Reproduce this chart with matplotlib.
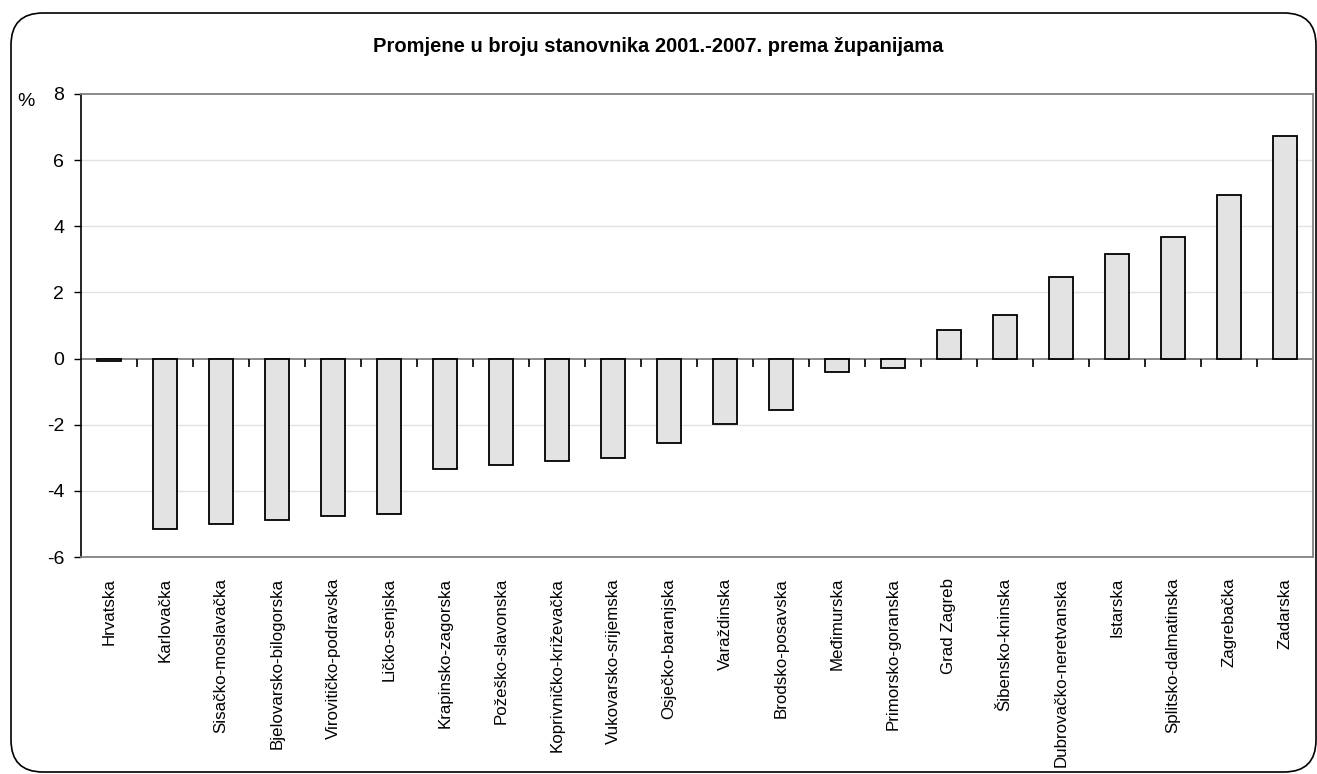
import matplotlib.pyplot as plt
import numpy as np
from matplotlib.patches import FancyBboxPatch

plt.rcParams['font.family'] = ['Liberation Sans', 'DejaVu Sans']
plt.rcParams['axes.unicode_minus'] = False

zupanije = ["Hrvatska", "Karlovačka", "Sisačko-moslavačka", "Bjelovarsko-bilogorska",
            "Virovitičko-podravska", "Ličko-senjska", "Krapinsko-zagorska", "Požeško-slavonska",
            "Koprivničko-križevačka", "Vukovarsko-srijemska", "Osječko-baranjska", "Varaždinska",
            "Brodsko-posavska", "Međimurska", "Primorsko-goranska", "Grad Zagreb",
            "Šibensko-kninska", "Dubrovačko-neretvanska", "Istarska", "Splitsko-dalmatinska",
            "Zagrebačka", "Zadarska"]
promjena = [-0.07, -5.16, -4.99, -4.87, -4.76, -4.71, -3.35, -3.23, -3.11, -3.01, -2.54,
            -1.98, -1.57, -0.40, -0.28, 0.87, 1.33, 2.47, 3.16, 3.68, 4.94, 6.72]
y_ticks = [-6, -4, -2, 0, 2, 4, 6, 8]

fig = plt.figure(figsize=(13.17, 7.74), dpi=100)
ax = fig.add_axes([81/1317, 1 - 557/774, (1313 - 81)/1317, (557 - 94)/774])

# okvir oko cijelog grafikona
okvir = FancyBboxPatch((0.11, 0.02), 13.05, 7.59, boxstyle="round,pad=0,rounding_size=0.32",
                       transform=fig.dpi_scale_trans, facecolor="none", edgecolor="black",
                       linewidth=1.2)
fig.patches.append(okvir)

x = np.arange(len(zupanije))
ax.bar(x, promjena, width=0.42, color="#e3e3e3", edgecolor="black", linewidth=1.3, zorder=3)

ax.set_xlim(-0.5, len(zupanije) - 0.5)
ax.set_ylim(-6, 8)
ax.set_yticks(y_ticks)
ax.tick_params(axis="y", labelsize=14, length=5, width=1, pad=7, direction="out")
for t in y_ticks:
    if t not in (0, 8, -6):
        ax.axhline(t, color="#e2e2e2", linewidth=1, zorder=1)
ax.axhline(0, color="#808080", linewidth=1.3, zorder=2)
granice = x[:-1] + 0.5
ax.plot(granice, np.zeros(len(granice)), linestyle="none", marker=3, markersize=6,
        markeredgewidth=1.2, color="black", zorder=2, clip_on=False)

ax.set_xticks(x, zupanije, rotation=90, fontsize=12.2)
ax.tick_params(axis="x", length=0, pad=15)

for s in ["top", "right", "bottom"]:
    ax.spines[s].set_color("#808080")
    ax.spines[s].set_linewidth(1.3)
ax.spines["left"].set_color("black")
ax.spines["left"].set_linewidth(1.2)

fig.text(658/1317, 1 - 47/774, "Promjene u broju stanovnika 2001.-2007. prema županijama",
         ha="center", va="center", fontsize=14.5, fontweight="bold")
fig.text(17/1317, 1 - 102/774, "%", ha="left", va="center", fontsize=14)

fig.savefig("out.png", dpi=100)
